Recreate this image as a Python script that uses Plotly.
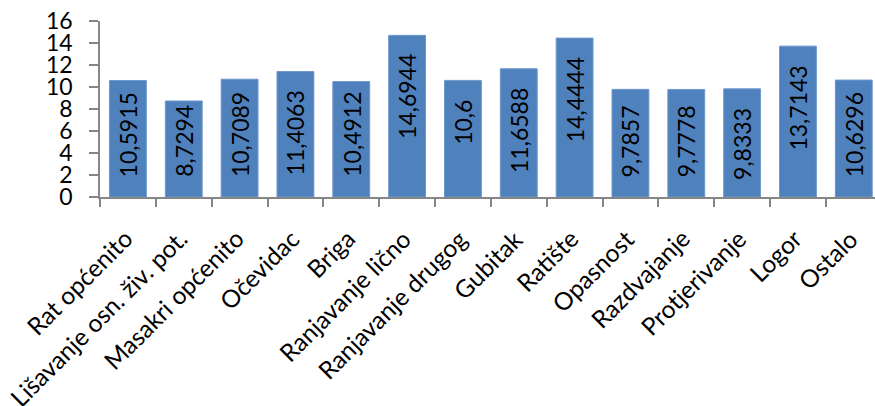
import plotly.graph_objects as go

categories = ["Rat općenito", "Lišavanje osn. živ. pot.", "Masakri općenito", "Očevidac",
              "Briga", "Ranjavanje lično", "Ranjavanje drugog", "Gubitak", "Ratište",
              "Opasnost", "Razdvajanje", "Protjerivanje", "Logor", "Ostalo"]
values = [10.5915, 8.7294, 10.7089, 11.4063, 10.4912, 14.6944, 10.6, 11.6588, 14.4444,
          9.7857, 9.7778, 9.8333, 13.7143, 10.6296]
y_ticks = [0, 2, 4, 6, 8, 10, 12, 14, 16]

labels = [("%g" % v).replace(".", ",") for v in values]

FONT = "Lato"
W, H = 875, 406
MT, MB = 21, 209
YMAX = 16
LABEL_SIZE = 23
px_per_unit = (H - MT - MB) / YMAX

fig = go.Figure(go.Bar(
    x=categories, y=values,
    marker=dict(color="#4F81BD", line=dict(color="#6F97CC", width=1)),
    hoverinfo="x+y",
))

# value labels: rotated, placed near the inside end, kept clear of the axis
TOP_GAP, BOTTOM_GAP = 17, 18
for c, v, t in zip(categories, values, labels):
    est_len = sum(0.58 if ch.isdigit() else 0.26 for ch in t) * LABEL_SIZE
    bottom_px_above_axis = v * px_per_unit - TOP_GAP - est_len
    common = dict(x=c, xref="x", yref="y", text=t, showarrow=False, textangle=-90,
                  xanchor="center", font=dict(family=FONT, size=LABEL_SIZE, color="black"))
    if bottom_px_above_axis < BOTTOM_GAP:
        fig.add_annotation(y=0, yanchor="bottom", yshift=BOTTOM_GAP, **common)
    else:
        fig.add_annotation(y=v, yanchor="top", yshift=-TOP_GAP, **common)

# category labels
for c in categories:
    fig.add_annotation(
        x=c, y=0, xref="x", yref="y", text=c, showarrow=False,
        xanchor="right", yanchor="top", textangle=-45,
        xshift=12, yshift=-24,
        font=dict(family=FONT, size=24.5, color="black"),
    )

fig.update_layout(
    width=W, height=H,
    margin=dict(l=100, r=0, t=MT, b=MB, autoexpand=False),
    paper_bgcolor="white", plot_bgcolor="white",
    bargap=0.34, showlegend=False,
)
fig.update_xaxes(
    range=[-0.5, 13.38], showline=True, linecolor="#868686", linewidth=1.5,
    ticks="outside", tickson="boundaries", ticklen=8, tickcolor="#868686", tickwidth=1.5,
    showticklabels=False, automargin=False, showgrid=False,
)
fig.update_yaxes(
    range=[0, YMAX], tickvals=y_ticks, showline=True, linecolor="#868686", linewidth=1.5,
    ticks="outside", ticklen=9, tickcolor="#868686", tickwidth=1.5,
    tickfont=dict(family=FONT, size=23, color="black"), ticklabelstandoff=12,
    showgrid=False, zeroline=False, automargin=False,
)
fig.write_html("out.html")
